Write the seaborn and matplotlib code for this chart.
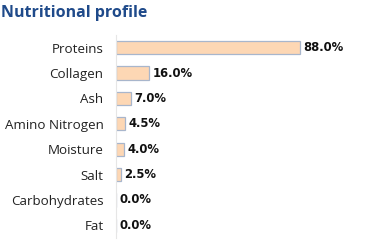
import matplotlib
matplotlib.use("Agg")
import matplotlib.pyplot as plt
import seaborn as sns
import pandas as pd
import numpy as np

categories = ["Proteins", "Collagen", "Ash", "Amino Nitrogen", "Moisture", "Salt", "Carbohydrates", "Fat"]
values = [88.0, 16.0, 7.0, 4.5, 4.0, 2.5, 0.0, 0.0]
value_labels = ["88.0%", "16.0%", "7.0%", "4.5%", "4.0%", "2.5%", "0.0%", "0.0%"]

df = pd.DataFrame({"category": categories, "value": values})

sns.set_theme(style="white")
plt.rcParams["font.family"] = ["DejaVu Sans"]

fig = plt.figure(figsize=(3.75, 2.47), dpi=100)
ax = fig.add_axes([116/375, 1 - 238/247, (375 - 116 - 6)/375, (238 - 35)/247])

sns.barplot(data=df, x="value", y="category", orient="h", ax=ax,
            color="#FDD7B4", edgecolor="#A8B6CC", linewidth=0.9, width=0.52,
            saturation=1)

ax.set_xlim(0, 121)
ax.set_ylim(7.5, -0.5)
ax.set_xlabel("")
ax.set_ylabel("")
ax.set_xticks([])

for s in ["top", "right", "bottom"]:
    ax.spines[s].set_visible(False)
ax.spines["left"].set_color("#E6E6E6")
ax.spines["left"].set_linewidth(0.8)

ax.set_yticks(range(len(categories)))
ax.set_yticklabels(categories, fontsize=9.6, color="#222222", family="Open Sans")
ax.tick_params(axis="y", length=0, pad=9)
ax.set_yticks(np.arange(-0.5, len(categories), 1.0), minor=True)
ax.tick_params(axis="y", which="minor", length=4, color="#E6E6E6", width=0.8)

for i, (v, lab) in enumerate(zip(values, value_labels)):
    ax.text(v + 1.5, i, lab, va="center", ha="left", fontsize=8.4,
            fontweight="bold", color="#111111")

fig.text(1/375, 1 - 13/247, "Nutritional profile", fontsize=11.5, fontweight="bold",
         color="#1F4A8A", va="center", ha="left", family="Open Sans")

fig.savefig("out.png", dpi=100)
